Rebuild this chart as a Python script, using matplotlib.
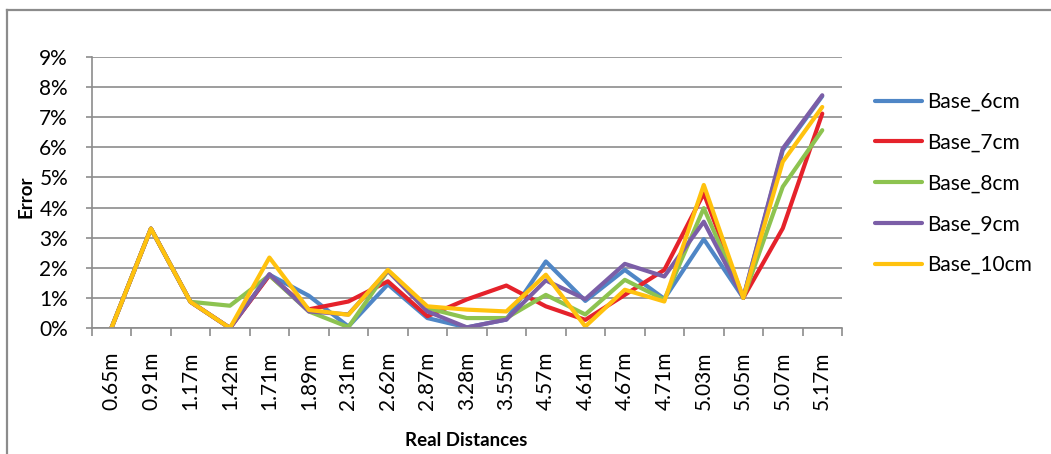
import numpy as np
import matplotlib.pyplot as plt
from matplotlib.lines import Line2D
from matplotlib.ticker import FuncFormatter

distances = ['0.65m', '0.91m', '1.17m', '1.42m', '1.71m', '1.89m', '2.31m',
             '2.62m', '2.87m', '3.28m', '3.55m', '4.57m', '4.61m', '4.67m',
             '4.71m', '5.03m', '5.05m', '5.07m', '5.17m']

# error in percent for each baseline
base_6cm = [0, 3.3, 0.87, 0, 1.77, 1.07, 0.05, 1.45, 0.33, 0.02, 0.28, 2.21,
            0.9, 1.93, 0.97, 2.95, 1.0, 5.9, 7.7]
base_7cm = [0, 3.3, 0.87, 0, 1.75, 0.62, 0.88, 1.55, 0.39, 0.95, 1.41, 0.72,
            0.27, 1.1, 1.93, 4.47, 1.0, 3.31, 7.12]
base_8cm = [0, 3.3, 0.87, 0.74, 1.75, 0.55, 0.03, 1.9, 0.66, 0.33, 0.33, 1.1,
            0.45, 1.6, 0.94, 3.98, 1.0, 4.69, 6.57]
base_9cm = [0, 3.3, 0.87, 0, 1.79, 0.55, 0.45, 1.9, 0.55, 0.02, 0.28, 1.58,
            0.96, 2.13, 1.71, 3.53, 1.0, 5.96, 7.73]
base_10cm = [0, 3.3, 0.87, 0, 2.34, 0.6, 0.44, 1.93, 0.72, 0.61, 0.55, 1.77,
             0.05, 1.27, 0.88, 4.75, 1.0, 5.52, 7.34]

series = [('Base_6cm', base_6cm, '#4f86c6'),
          ('Base_7cm', base_7cm, '#e5222b'),
          ('Base_8cm', base_8cm, '#8dc350'),
          ('Base_9cm', base_9cm, '#7b5ea7'),
          ('Base_10cm', base_10cm, '#ffc20e')]

plt.rcParams['font.family'] = ['Lato', 'DejaVu Sans']
grey = '#8c8c8c'

W, H = 1051, 454
fig = plt.figure(figsize=(W / 100, H / 100), dpi=100)

# outer chart frame (top and left edges)
fig.add_artist(Line2D([7 / W, 1], [1 - 10 / H, 1 - 10 / H], color=grey, lw=1.6))
fig.add_artist(Line2D([7 / W, 7 / W], [0, 1 - 10 / H], color=grey, lw=1.6))

ax = fig.add_axes([91.7 / W, 126 / H, 750.3 / W, 271 / H])

x = np.arange(len(distances)) + 0.5
for name, vals, col in series:
    ax.plot(x, vals, color=col, lw=3.0, label=name,
            solid_joinstyle='round', solid_capstyle='round')

ax.set_xlim(0, len(distances))
ax.set_ylim(0, 9)
ax.set_yticks(np.arange(0, 10))
ax.yaxis.set_major_formatter(FuncFormatter(lambda v, p: '%d%%' % v))
ax.grid(axis='y', color=grey, lw=1.2)
ax.set_axisbelow(True)

# tick marks on category boundaries, labels on category centres
ax.set_xticks(np.arange(0, len(distances) + 1))
ax.set_xticklabels([])
ax.set_xticks(x, minor=True)
ax.set_xticklabels(distances, minor=True, rotation=90, fontsize=15)
ax.tick_params(axis='x', which='major', length=6, color=grey, width=1.2)
ax.tick_params(axis='x', which='minor', length=0, pad=17)
ax.tick_params(axis='y', length=4, color=grey, width=1.2, pad=13, labelsize=15)

for s in ['top', 'right']:
    ax.spines[s].set_visible(False)
for s in ['left', 'bottom']:
    ax.spines[s].set_color(grey)
    ax.spines[s].set_linewidth(1.2)

fig.text(466 / W, 1 - 440 / H, 'Real Distances', ha='center', va='center',
         fontsize=13.5, fontweight='bold')
fig.text(26 / W, 1 - 197 / H, 'Error', ha='center', va='center',
         rotation=90, fontsize=13.5, fontweight='bold')

fig.legend(loc='center left', bbox_to_anchor=(875 / W, 1 - 183.5 / H),
           frameon=False, fontsize=15, handlelength=2.25, handletextpad=0.25,
           labelspacing=1.0, borderpad=0, borderaxespad=0)

fig.savefig('out.png', dpi=100)
